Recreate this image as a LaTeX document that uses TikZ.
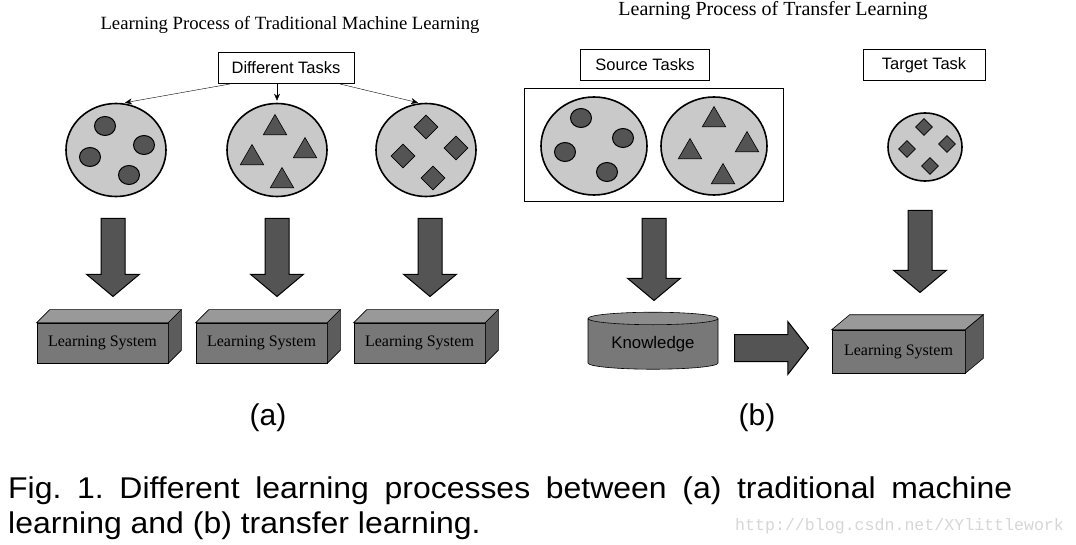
\documentclass[tikz,border=0pt]{standalone}
\usepackage{fontspec}
\setmainfont{Liberation Serif}
\setsansfont{Liberation Sans}
\setmonofont{Liberation Mono}
\newfontfamily\capfont[FakeStretch=1.065]{Liberation Sans}
\usetikzlibrary{shapes.geometric,shapes.arrows,arrows.meta}

\definecolor{paleg}{gray}{0.79}
\definecolor{darkg}{gray}{0.33}
\definecolor{frontg}{gray}{0.47}
\definecolor{topg}{gray}{0.6}
\definecolor{sideg}{gray}{0.36}
\definecolor{markg}{gray}{0.84}

\tikzset{
  title/.style={font=\fontsize{18.7}{18.7}\selectfont},
  tag/.style={draw, fill=white, line width=1pt, inner sep=0, minimum height=31pt,
    font=\sffamily\fontsize{16.5}{16.5}\selectfont},
  task/.style={draw, ellipse, fill=paleg, line width=1.6pt, inner sep=0},
  dot/.style={draw, ellipse, fill=darkg, line width=1pt, inner sep=0,
    minimum width=21pt, minimum height=19pt},
  tri/.style={draw, regular polygon, regular polygon sides=3, fill=darkg,
    line width=.6pt, inner sep=0, minimum size=27pt},
  dia/.style={draw, diamond, fill=darkg, line width=.6pt, inner sep=0,
    minimum width=24pt, minimum height=24pt},
  bigarrow/.style={draw, single arrow, fill=darkg, line width=1pt, inner xsep=0,
    inner ysep=11.5pt, single arrow head extend=14.5pt, single arrow tip angle=100,
    anchor=tail},
  lsys/.style={draw, fill=frontg, line width=.6pt, inner sep=0,
    minimum width=131pt, minimum height=40pt, font=\fontsize{16}{16}\selectfont},
  sub/.style={font=\sffamily\fontsize{30}{30}\selectfont}
}

% top and side faces of a learning system block, #2/#3 = depth
\newcommand\lsfaces[3]{%
  \draw[fill=topg, line width=.6pt] (#1.north west) -- ++(#2,#3)
    -- ([shift={(#2,#3)}]#1.north east) -- (#1.north east) -- cycle;
  \draw[fill=sideg, line width=.6pt] (#1.north east) -- ++(#2,#3)
    -- ([shift={(#2,#3)}]#1.south east) -- (#1.south east) -- cycle;}

\begin{document}
\begin{tikzpicture}[x=1pt, y=-1pt]
  \useasboundingbox (0,0) rectangle (1076,545);

  % (a) traditional machine learning
  \node[title] (ttla) at (290,25) {Learning Process of Traditional Machine Learning};
  \node[tag, minimum width=136pt] (dt) at (286,68) {Different Tasks};

  \node[task, minimum width=100pt, minimum height=93pt] (ea1) at (116,150) {};
  \node[task, minimum width=100pt, minimum height=93pt] (ea2) at (277,150) {};
  \node[task, minimum width=100pt, minimum height=93pt] (ea3) at (426,150) {};

  \draw[-{Stealth[length=7pt,width=6pt]}] ([xshift=-56pt]dt.south) -- ([xshift=9pt]ea1.north);
  \draw[-{Stealth[length=7pt,width=6pt]}] ([xshift=-9pt]dt.south) -- ([yshift=2pt]ea2.north);
  \draw[-{Stealth[length=7pt,width=6pt]}] ([xshift=54pt]dt.south) -- ([xshift=-8pt]ea3.north);

  \node[dot] (c1) at (105,126) {};
  \node[dot] (c2) at (144,145) {};
  \node[dot] (c3) at (90,157) {};
  \node[dot] (c4) at (129,175) {};

  \node[tri] (t1) at (275,128) {};
  \node[tri] (t2) at (252,158) {};
  \node[tri] (t3) at (305,151) {};
  \node[tri] (t4) at (282,181) {};

  \node[dia] (d1) at (426,127) {};
  \node[dia] (d2) at (456,148) {};
  \node[dia] (d3) at (403,156) {};
  \node[dia] (d4) at (433,178) {};

  \node[bigarrow, rotate=-90, minimum height=78pt] (ar1) at (113,218) {};
  \node[bigarrow, rotate=-90, minimum height=78pt] (ar2) at (277,218) {};
  \node[bigarrow, rotate=-90, minimum height=78pt] (ar3) at (430,218) {};

  \node[lsys] (ls1) at (102.5,343) {Learning System};
  \node[lsys] (ls2) at (261.5,343) {Learning System};
  \node[lsys] (ls3) at (419.5,343) {Learning System};
  \lsfaces{ls1}{13}{-13} \lsfaces{ls2}{13}{-13} \lsfaces{ls3}{13}{-13}

  \node[sub] (suba) at (268,418) {(a)};

  % (b) transfer learning
  \node[title, font=\fontsize{20}{20}\selectfont] (ttlb) at (773,11) {Learning Process of Transfer Learning};
  \node[tag, minimum width=129pt] (src) at (645,65) {Source Tasks};
  \node[tag, minimum width=122pt] (tgt) at (924,65) {Target Task};

  \node[draw, line width=1pt, minimum width=259pt, minimum height=113pt] (srcbox) at (653.5,145.5) {};
  \node[task, minimum width=106pt, minimum height=98pt] (eb1) at (594,146) {};
  \node[task, minimum width=106pt, minimum height=98pt] (eb2) at (714,146) {};
  \node[task, minimum width=74pt, minimum height=68pt] (eb3) at (925,147) {};

  \node[dot] (c5) at (581,118) {};
  \node[dot] (c6) at (623,138) {};
  \node[dot] (c7) at (565,152) {};
  \node[dot] (c8) at (607,172) {};

  \node[tri] (t5) at (714,120) {};
  \node[tri] (t6) at (747,145) {};
  \node[tri] (t7) at (690,152) {};
  \node[tri] (t8) at (723,177) {};

  \node[dia, minimum width=17pt, minimum height=17pt] (d5) at (924,127) {};
  \node[dia, minimum width=17pt, minimum height=17pt] (d6) at (947,144) {};
  \node[dia, minimum width=17pt, minimum height=17pt] (d7) at (907,149) {};
  \node[dia, minimum width=17pt, minimum height=17pt] (d8) at (930,166) {};

  \node[bigarrow, rotate=-90, minimum height=82pt] (ar4) at (654,218) {};
  \node[bigarrow, rotate=-90, minimum height=82pt] (ar5) at (920,210) {};

  \node[draw, cylinder, shape border rotate=90, aspect=0.15, line width=.6pt,
    cylinder uses custom fill, cylinder body fill=frontg, cylinder end fill=frontg!85!white,
    minimum width=130pt, minimum height=57pt, inner sep=0,
    font=\sffamily\fontsize{16.8}{16.8}\selectfont] (kn) at (653,344) {Knowledge};
  \node[bigarrow, minimum height=74pt, inner ysep=13pt, single arrow head extend=13pt,
    single arrow tip angle=104] (ar6) at (734,348) {};

  \node[lsys, minimum width=133pt, minimum height=43pt] (ls4) at (898.5,351.5) {Learning System};
  \lsfaces{ls4}{18}{-15}

  \node[sub] (subb) at (757,418) {(b)};

  % caption and watermark
  \node[anchor=north west, text width=1004pt, align=justify, inner sep=0,
    font=\capfont\frenchspacing\fontsize{30}{35}\selectfont] (cap) at (8,477)
    {Fig. 1. Different learning processes between (a) traditional machine\linebreak
     learning and (b) transfer learning.};
  \node[anchor=base west, inner sep=0, text=markg,
    font=\ttfamily\fontsize{16.6}{16.6}\selectfont] (wm) at (735,530) {http://blog.csdn.net/XYlittlework};
\end{tikzpicture}
\end{document}
